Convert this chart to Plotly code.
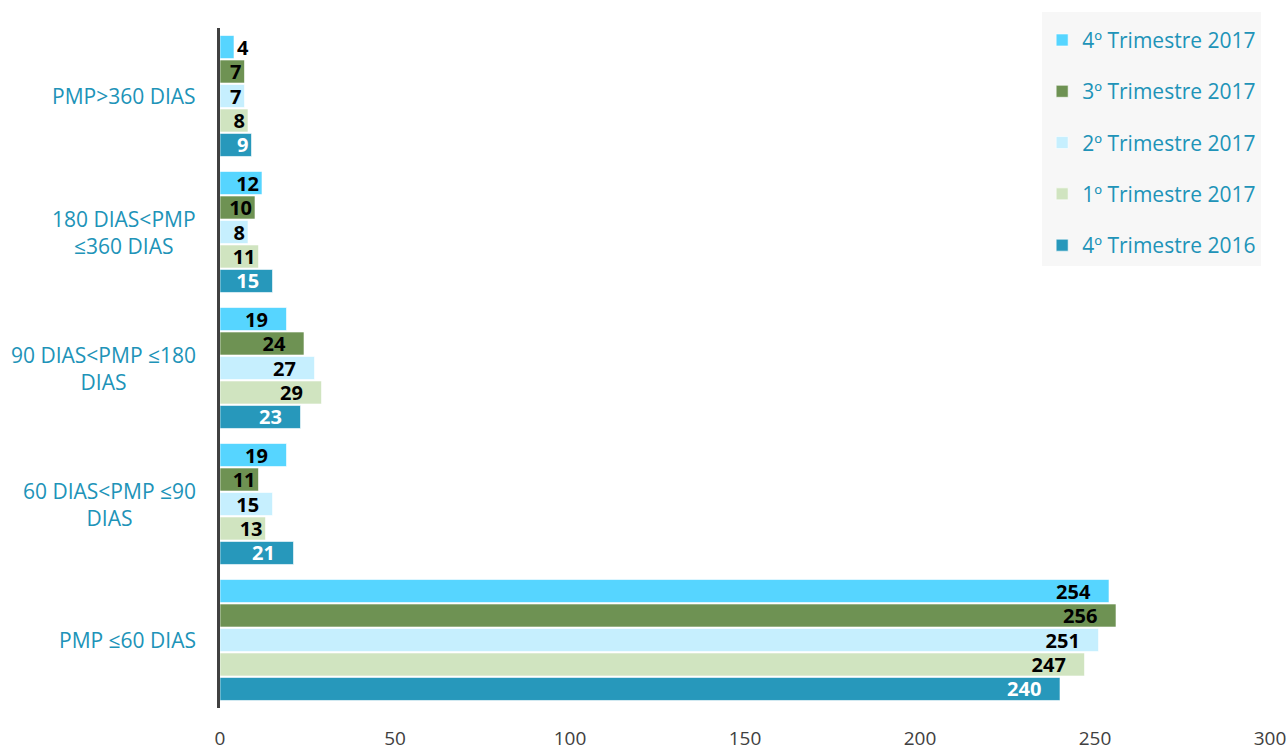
import plotly.graph_objects as go

categories = ["PMP ≤60 DIAS", "60 DIAS&lt;PMP ≤90<br>DIAS", "90 DIAS&lt;PMP ≤180<br>DIAS",
              "180 DIAS&lt;PMP<br>≤360 DIAS", "PMP&gt;360 DIAS"]
cat_keys = ["c1", "c2", "c3", "c4", "c5"]

series_names = ["4º Trimestre 2016", "1º Trimestre 2017", "2º Trimestre 2017",
                "3º Trimestre 2017", "4º Trimestre 2017"]
v_4t2016 = [240, 21, 23, 15, 9]
v_1t2017 = [247, 13, 29, 11, 8]
v_2t2017 = [251, 15, 27, 8, 7]
v_3t2017 = [256, 11, 24, 10, 7]
v_4t2017 = [254, 19, 19, 12, 4]
series_values = [v_4t2016, v_1t2017, v_2t2017, v_3t2017, v_4t2017]

colors = ["#2798BB", "#D0E4C0", "#C6EFFE", "#6E9253", "#56D5FF"]
text_colors = ["white", "black", "black", "black", "black"]
x_ticks = [0, 50, 100, 150, 200, 250, 300]

FONT = "Open Sans"
LABEL_COLOR = "#2093B8"

W, H = 1288, 751
ML, MR, MT, MB = 220, 18, 28, 43
X_MAX = 300
px_per_unit = (W - ML - MR) / X_MAX


def label_text(v):
    # Excel-like "inside end" label: keep some padding from the bar end when room allows
    s = str(v)
    room = v * px_per_unit - 3 - 16 - 12 * len(s)
    k = max(0, min(3, round(room / 5.2)))
    return s + "\u00a0" * k


fig = go.Figure()
n = len(series_names)
for i, (name, vals) in enumerate(zip(series_names, series_values)):
    fig.add_trace(go.Bar(
        y=cat_keys, x=vals, orientation="h", name=name,
        marker=dict(color=colors[i], line=dict(color="rgba(255,255,255,0.6)", width=1)),
        text=[label_text(v) for v in vals],
        textposition=["outside" if v < 6 else "inside" for v in vals],
        insidetextanchor="end", constraintext="none", textangle=0, cliponaxis=False,
        textfont=dict(family=FONT, size=20, color=text_colors[i], weight="bold"),
        legendgroup=name, legendrank=n - i,
    ))

for key, label in zip(cat_keys, categories):
    fig.add_annotation(x=0, xref="paper", y=key, yref="y", text=label,
                       xanchor="right", xshift=-22, align="center", showarrow=False,
                       font=dict(family=FONT, size=21, color=LABEL_COLOR))

fig.update_layout(
    width=W, height=H,
    margin=dict(l=ML, r=MR, t=MT, b=MB, autoexpand=False),
    paper_bgcolor="white", plot_bgcolor="white",
    barmode="group", bargap=0.10, bargroupgap=0.06,
    showlegend=True,
    legend=dict(x=0.783, y=1.0235, xanchor="left", yanchor="top",
                bgcolor="#F7F7F7", traceorder="grouped", tracegroupgap=21,
                title=dict(text="&nbsp;", font=dict(size=6)),
                font=dict(family=FONT, size=21, color=LABEL_COLOR),
                itemwidth=30),
    xaxis=dict(range=[0, X_MAX], tickvals=x_ticks, showgrid=False, zeroline=False,
               showline=False, ticks="outside", ticklen=13, tickcolor="rgba(0,0,0,0)",
               automargin=False,
               tickfont=dict(family=FONT, size=19, color="#404040")),
    yaxis=dict(showticklabels=False, showgrid=False, zeroline=False, automargin=False,
               showline=True, linecolor="#404040", linewidth=3,
               categoryorder="array", categoryarray=cat_keys),
)

fig.write_html("out.html", config={"displayModeBar": False},
               post_script="document.body.style.margin='0';document.body.style.overflow='hidden';")
